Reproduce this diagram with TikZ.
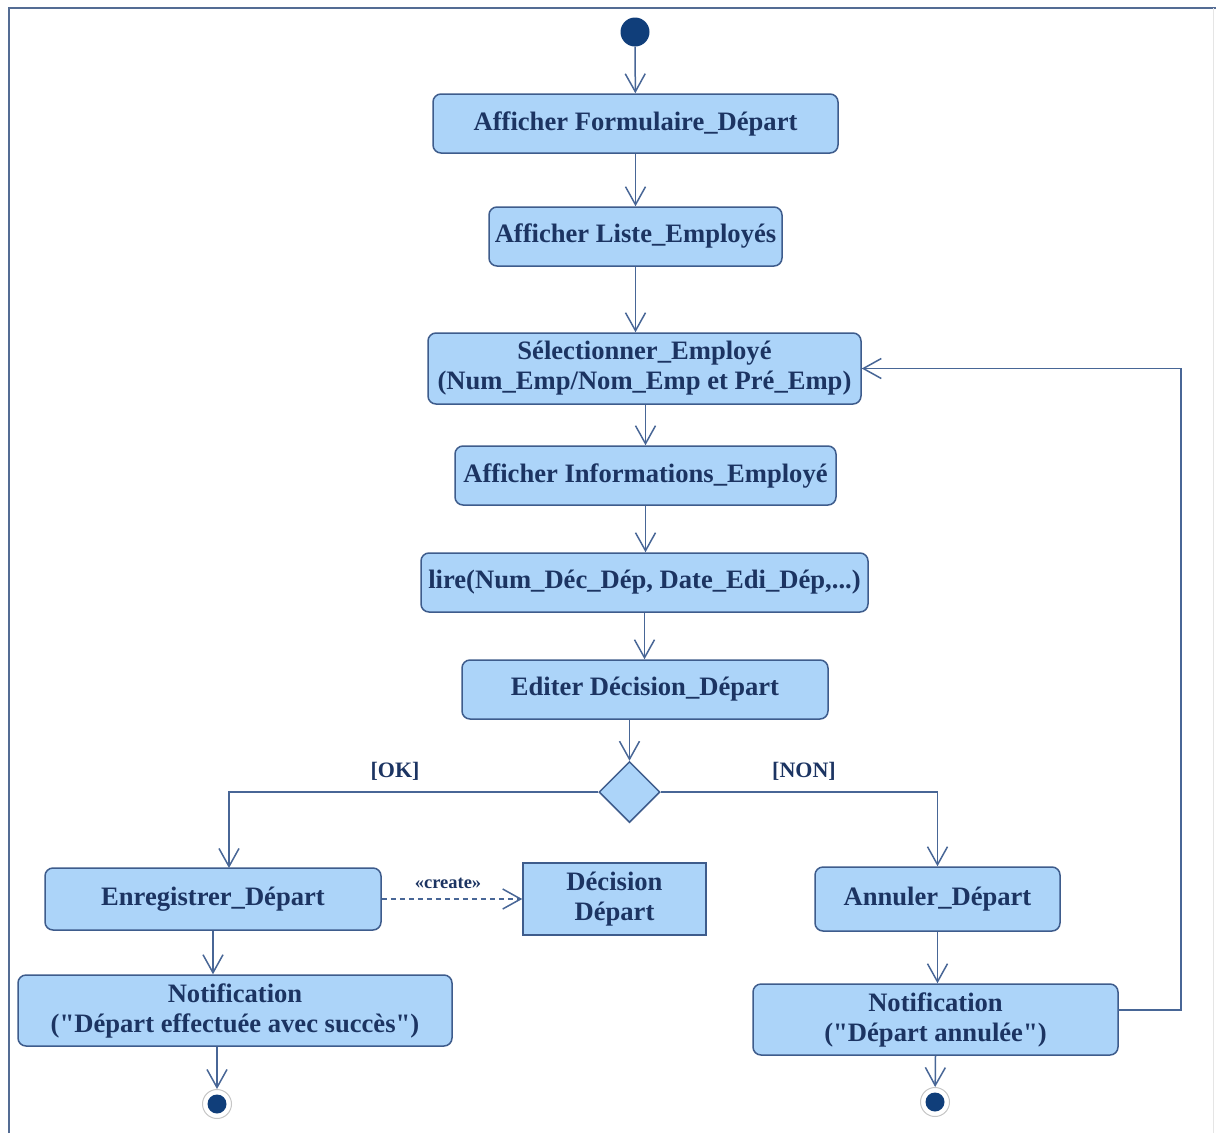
\documentclass[tikz,border=0pt]{standalone}
\usepackage{fontspec}
\setmainfont{Liberation Serif}
\usetikzlibrary{arrows.meta,shapes.geometric}
\definecolor{boxfill}{RGB}{172,212,249}
\definecolor{boxdraw}{RGB}{62,92,140}
\definecolor{linecol}{RGB}{72,102,150}
\definecolor{txt}{RGB}{28,52,98}
\definecolor{dotcol}{RGB}{16,62,122}
\definecolor{framecol}{RGB}{84,108,148}
\tikzset{
  >={Straight Barb[length=18pt,width=20pt]},
  act/.style={draw=boxdraw, fill=boxfill, line width=1.5pt, rounded corners=8pt,
    inner sep=0pt, align=center, text=txt,
    font=\fontsize{26.6}{30}\selectfont\bfseries},
  objbox/.style={act, rounded corners=0pt},
  flow/.style={draw=linecol, line width=1.5pt, ->},
  startdot/.style={circle, fill=dotcol, minimum size=29pt, inner sep=0pt},
  enddot/.style={circle, draw=gray!45, fill=white, line width=1pt, minimum size=29pt, inner sep=0pt,
    path picture={\fill[dotcol] (path picture bounding box.center) circle (9.5pt);}},
  decision/.style={diamond, aspect=1, draw=boxdraw, fill=boxfill, line width=1.5pt,
    minimum size=61pt, inner sep=0pt},
  guard/.style={text=txt, font=\fontsize{22}{24}\selectfont\bfseries},
}
\begin{document}
\begin{tikzpicture}[x=1pt,y=1pt]
\useasboundingbox (0,0) rectangle (1216,-1133);
% frame
\draw[framecol, line width=2pt] (9,-1133) -- (9,-8) -- (1216,-8);
\draw[gray!20, line width=1pt] (1213,-8) -- (1213,-1133);

\node[startdot] (S) at (635,-32) {};
\node[act, minimum width=405pt, minimum height=59pt] (A1) at (635.5,-123.5) {Afficher Formulaire\_Départ};
\node[act, minimum width=293pt, minimum height=59pt] (A2) at (635.5,-236.5) {Afficher Liste\_Employés};
\node[act, minimum width=433pt, minimum height=71pt] (A3) at (644.5,-368.5) {Sélectionner\_Employé\\(Num\_Emp/Nom\_Emp et Pré\_Emp)};
\node[act, minimum width=381pt, minimum height=59pt] (A4) at (645.5,-475.5) {Afficher Informations\_Employé};
\node[act, minimum width=447pt, minimum height=59pt] (A5) at (644.5,-582.5) {lire(Num\_Déc\_Dép, Date\_Edi\_Dép,...)};
\node[act, minimum width=366pt, minimum height=59pt] (A6) at (645,-689.5) {Editer Décision\_Départ};
\node[decision] (D) at (629.5,-792) {};
\node[act, minimum width=336pt, minimum height=62pt] (E) at (213,-899) {Enregistrer\_Départ};
\node[objbox, minimum width=183pt, minimum height=72pt] (O) at (614.5,-899) {Décision\\Départ};
\node[act, minimum width=245pt, minimum height=64pt] (C) at (937.5,-899) {Annuler\_Départ};
\node[act, minimum width=434pt, minimum height=71pt] (N1) at (235,-1010.5) {Notification\\(\textquotedbl Départ effectuée avec succès\textquotedbl)};
\node[act, minimum width=365pt, minimum height=71pt] (N2) at (935.5,-1019.5) {Notification\\(\textquotedbl Départ annulée\textquotedbl)};
\node[enddot] (F1) at (217,-1104) {};
\node[enddot] (F2) at (935,-1102) {};

\node[guard] (gOK) at (395,-771) {[OK]};
\node[guard] (gNON) at (804,-771) {[NON]};

\coordinate (eTop) at (229,-868);
\coordinate (loopA) at (1118,-1010);
\coordinate (loopB) at (1181,-1010);

% flows
\draw[flow] (S) -- (A1);
\draw[flow] (A1) -- (A2);
\draw[flow] (A2.south) -- (A2.south |- A3.north);
\draw[flow] (A4.north |- A3.south) -- (A4.north);
\draw[flow] (A4.south) -- (A4.south |- A5.north);
\draw[flow] (A5.south) -- (A5.south |- A6.north);
\draw[flow] (D.north |- A6.south) -- (D.north);
\draw[flow] (D.west) -| (eTop);
\draw[flow] (D.east) -| (C.north);
\draw[flow] (E.south) -- (E.south |- N1.north);
\draw[flow] (C.south) -- (C.south |- N2.north);
\draw[flow] (F1.north |- N1.south) -- (F1);
\draw[flow] (N2.south) -- (F2);
\draw[flow] (loopA) -- (loopB) |- (A3.east);
\draw[flow, dashed, dash pattern=on 5pt off 4pt] (E) -- node[above=6pt, xshift=-4pt, text=txt, font=\fontsize{18.5}{20}\selectfont\bfseries] {«create»} (O);
\end{tikzpicture}
\end{document}
